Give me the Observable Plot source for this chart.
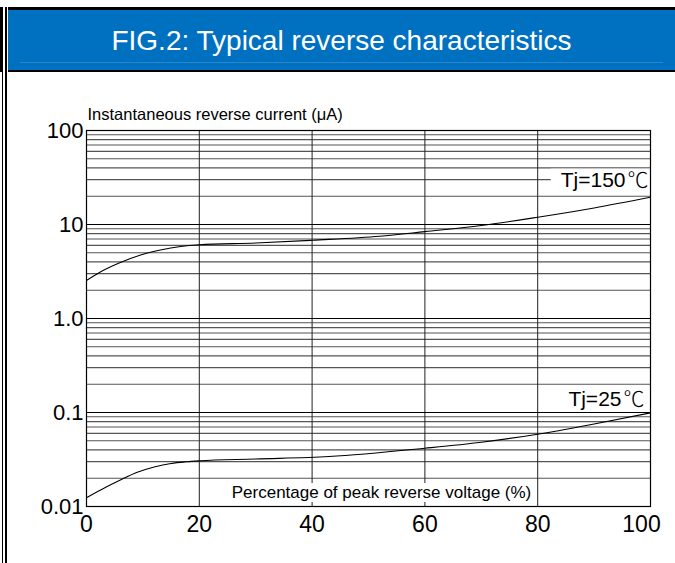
<!DOCTYPE html>
<html><head><meta charset="utf-8">
<script src="https://cdn.jsdelivr.net/npm/d3@7"></script>
<script src="https://cdn.jsdelivr.net/npm/@observablehq/plot@0.6"></script>
<style>
html,body{margin:0;padding:0;background:#fff;}
body{width:675px;height:563px;position:relative;overflow:hidden;font-family:"Liberation Sans",Arial,sans-serif;}
#header{position:absolute;left:8px;top:7px;width:667px;height:60px;background:#0071c1;border-top:3px solid #000;border-bottom:2px solid #000;}
#hline{position:absolute;left:12px;top:52px;width:643px;height:1px;background:#2a86cc;}
#title{position:absolute;left:0;width:100%;top:17px;text-align:center;color:#fff;font-size:28px;line-height:28px;white-space:nowrap;}
.vl{position:absolute;background:#000;}
#chart{position:absolute;left:0;top:72px;}
</style>
</head>
<body>
<div id="chart"></div>
<div id="header"><div id="hline"></div><div id="title">FIG.2: Typical reverse characteristics</div></div>
<div class="vl" style="left:0;top:7px;width:2px;height:65px"></div>
<div class="vl" style="left:2px;top:7px;width:1px;bottom:0"></div>
<div class="vl" style="left:5px;top:7px;width:2px;bottom:0"></div>
<script>
// Tj = 150 °C curve (percent of peak reverse voltage, µA)
const pct150 = [0, 2.3, 6, 9.6, 13.1, 16.7, 20, 30, 40, 52, 60, 70, 80, 90, 100];
const val150 = [2.54, 3.09, 3.94, 4.74, 5.35, 5.83, 6.08, 6.35, 6.8, 7.5, 8.4, 9.75, 11.95, 15.0, 19.5];
// Tj = 25 °C curve
const pct25 = [0, 3.5, 6, 9, 12, 15, 17.7, 20, 30, 43, 60, 70, 80, 90, 100];
const val25 = [0.0124, 0.0161, 0.0191, 0.0231, 0.0263, 0.0287, 0.0299, 0.0306, 0.032, 0.034, 0.0417, 0.0483, 0.0588, 0.0755, 0.099];

const xTicks = [0, 20, 40, 60, 80];
const xTicksEnd = [100];
const xGrid = [20, 40, 60, 80];
const yTicks = [0.01, 0.1, 1, 10, 100];
const yTickLabels = ["0.01", "0.1", "1.0", "10", "100"];
const curveLabels = ["Tj=150℃", "Tj=25℃"];
const curveLabelX = [100, 100];
const curveLabelY = [30, 0.135];
const yLabel = "Instantaneous reverse current (μA)";
const xLabel = "Percentage of peak reverse voltage (%)";

const minor = d3.scaleLog().domain([0.01, 100]).ticks()
  .filter(v => Math.abs(Math.log10(v) - Math.round(Math.log10(v))) > 1e-6);

const s150 = pct150.map((x, i) => ({x, y: val150[i]}));
const s25 = pct25.map((x, i) => ({x, y: val25[i]}));

const chart = Plot.plot({
  width: 675, height: 491,
  marginLeft: 86, marginRight: 25, marginTop: 58, marginBottom: 57,
  style: {fontFamily: '"Liberation Sans", Arial, sans-serif', background: "transparent", color: "#000"},
  x: {domain: [0, 100]},
  y: {type: "log", domain: [0.01, 100]},
  marks: [
    Plot.ruleY(minor, {stroke: "#555", strokeWidth: 1.1}),
    Plot.ruleX(xGrid, {stroke: "#222", strokeWidth: 1}),
    Plot.ruleY(yTicks, {stroke: "#000", strokeWidth: 1.2}),
    Plot.line(s150, {x: "x", y: "y", curve: "monotone-x", stroke: "#000", strokeWidth: 1.1}),
    Plot.line(s25, {x: "x", y: "y", curve: "monotone-x", stroke: "#000", strokeWidth: 1.1}),
    Plot.text([curveLabels[0]], {x: () => curveLabelX[0], y: () => curveLabelY[0], text: d => d, textAnchor: "end", lineAnchor: "bottom", dy: 7, dx: -2, fontSize: 21, fill: "#000"}),
    Plot.text([curveLabels[1]], {x: () => curveLabelX[1], y: () => curveLabelY[1], text: d => d, textAnchor: "end", lineAnchor: "bottom", dy: 6, dx: -6, fontSize: 21, fill: "#000"}),
    Plot.text([xLabel], {frameAnchor: "bottom", text: d => d, lineAnchor: "bottom", dy: -8.5, dx: 13, fontSize: 17, fill: "#000"}),
    Plot.text([yLabel], {frameAnchor: "top-left", text: d => d, textAnchor: "start", lineAnchor: "bottom", dy: -10.7, dx: 1, fontSize: 16.5, fill: "#000"}),
    Plot.axisX({ticks: xTicks, tickSize: 0, tickPadding: 9, fontSize: 23, label: null}),
    Plot.axisX({ticks: xTicksEnd, tickSize: 0, tickPadding: 9, fontSize: 23, label: null, dx: -9}),
    Plot.axisY({ticks: yTicks, tickSize: 0, tickPadding: 3, fontSize: 22, label: null,
      tickFormat: d => yTickLabels[yTicks.findIndex(t => Math.abs(t - d) < 1e-9)]}),
    Plot.frame({stroke: "#000", strokeWidth: 1.2})
  ]
});
document.getElementById("chart").append(chart);

// degree-Celsius sign in a CJK face, then white boxes behind in-plot labels
const NS = "http://www.w3.org/2000/svg";
const pads = {
  [curveLabels[0]]: [10, 2, -6, -2],
  [curveLabels[1]]: [4, 2, -6, -2],
  [xLabel]: [4, 4, 0, 0]
};
chart.querySelectorAll("text").forEach(t => {
  const txt = t.textContent;
  const p = pads[txt];
  if (!p) return;
  if (txt.endsWith("℃")) {
    t.textContent = txt.slice(0, -1);
    const ts = document.createElementNS(NS, "tspan");
    ts.setAttribute("font-family", '"Noto Sans CJK SC", sans-serif');
    ts.setAttribute("font-weight", "300");
    ts.setAttribute("dx", "2");
    ts.textContent = "℃";
    t.appendChild(ts);
  }
  const b = t.getBBox();
  const r = document.createElementNS(NS, "rect");
  r.setAttribute("x", b.x - p[0]);
  r.setAttribute("y", b.y - p[2]);
  r.setAttribute("width", b.width + p[0] + p[1]);
  r.setAttribute("height", b.height + p[2] + p[3]);
  r.setAttribute("fill", "#fff");
  r.setAttribute("stroke", "none");
  if (t.getAttribute("transform")) r.setAttribute("transform", t.getAttribute("transform"));
  t.parentNode.insertBefore(r, t);
});
</script>
</body></html>
